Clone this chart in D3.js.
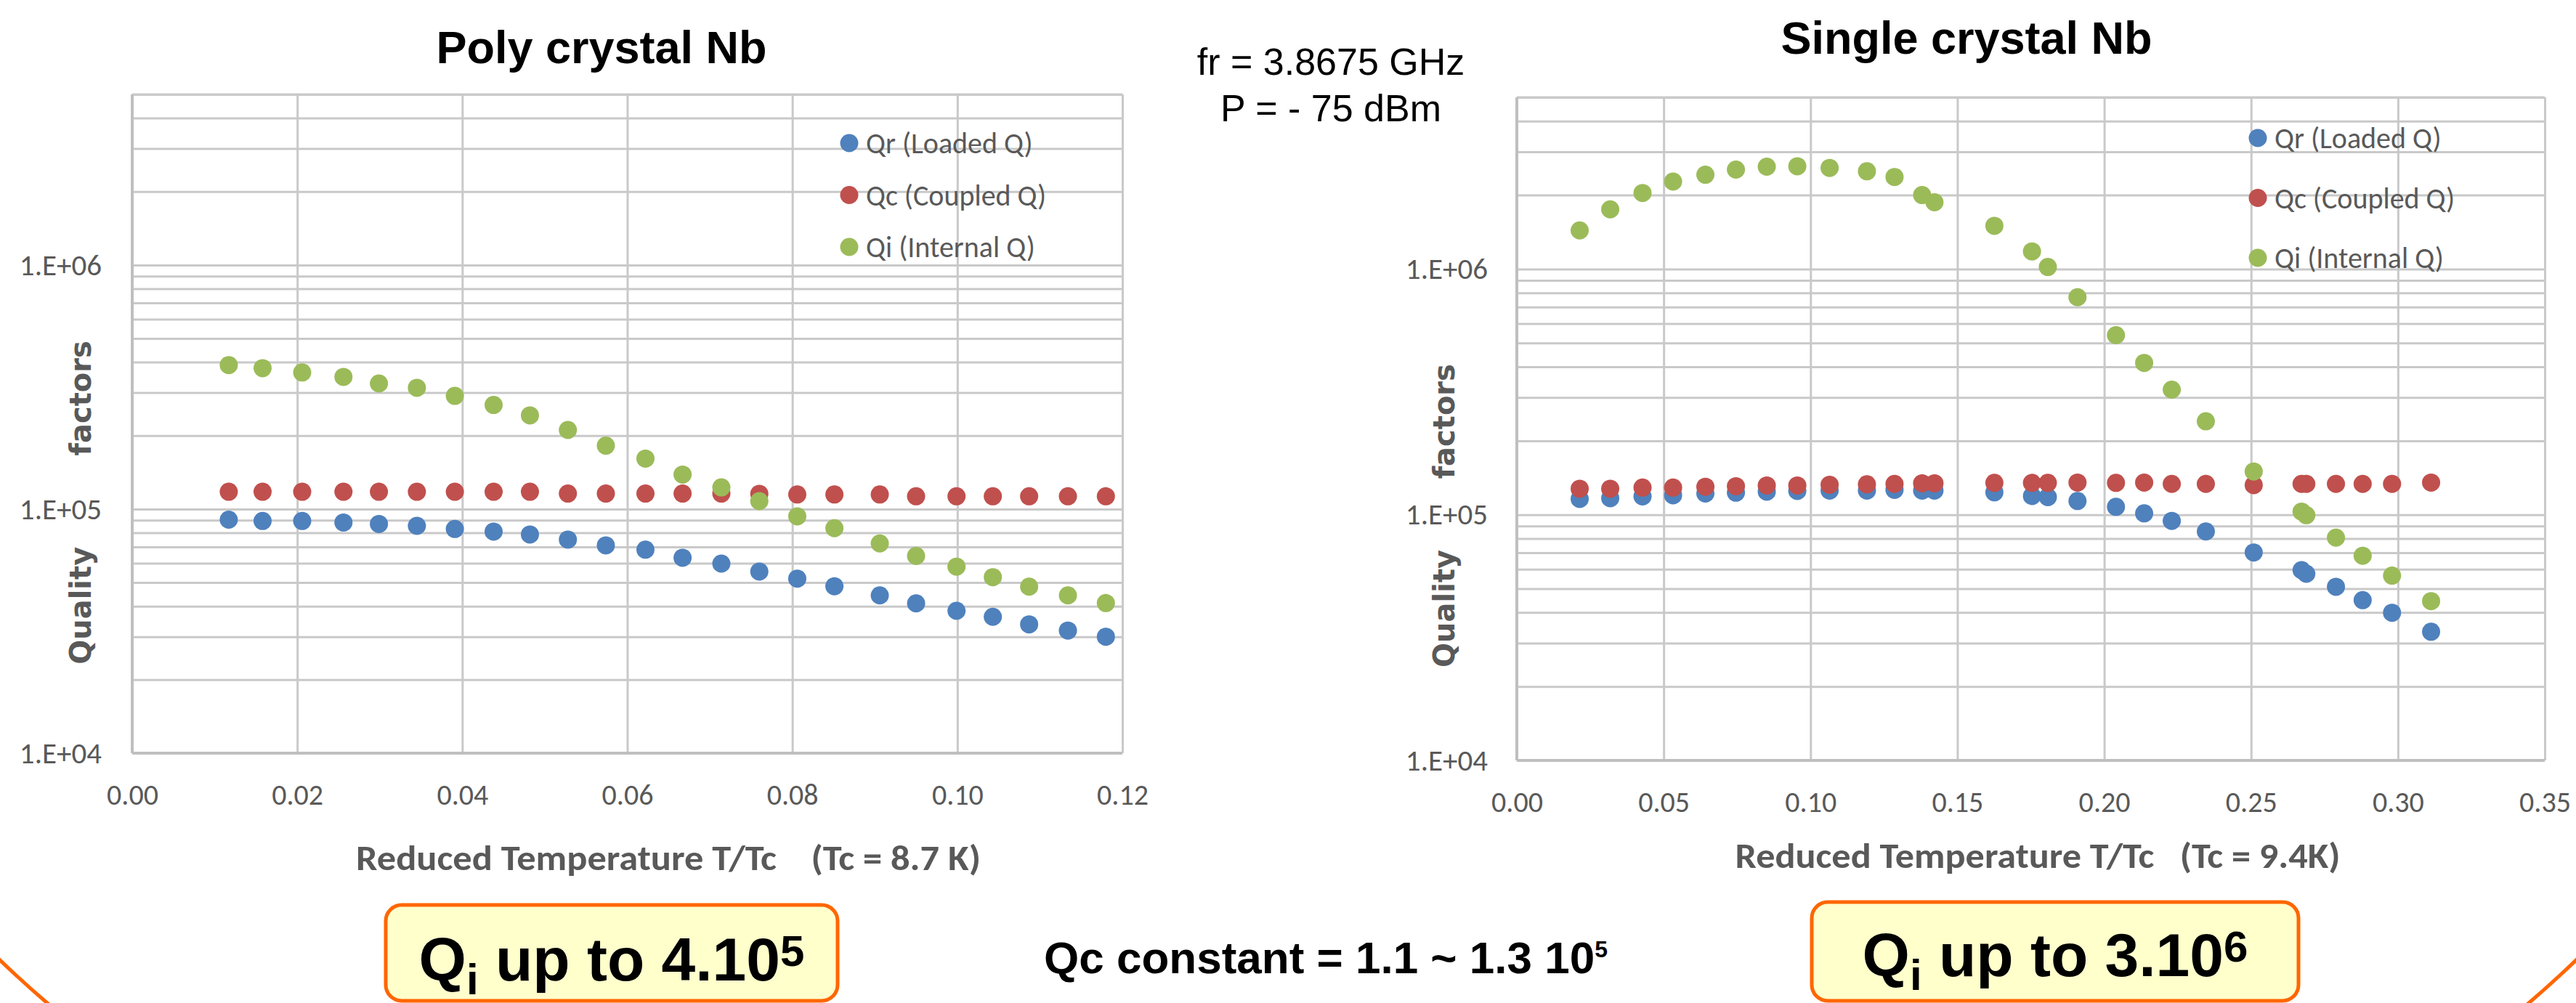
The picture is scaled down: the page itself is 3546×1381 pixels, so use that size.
<!DOCTYPE html>
<html>
<head>
<meta charset="utf-8">
<script src="https://cdn.jsdelivr.net/npm/d3@7"></script>
<style>
  body { margin: 0; background: #fff; }
  svg { display: block; }
  text { white-space: pre; }
</style>
</head>
<body>
<div class="canvas"></div>
<script>
// ---- data ----
const seriesNames = ["Qr (Loaded Q)", "Qc (Coupled Q)", "Qi (Internal Q)"];
const seriesColors = ["#4F81BD", "#C0504D", "#9BBB59"];

const yTickValues = [1e4, 1e5, 1e6];
const yTickLabels = ["1.E+04", "1.E+05", "1.E+06"];

const polyXTicks = [0, 0.02, 0.04, 0.06, 0.08, 0.10, 0.12];
const singleXTicks = [0, 0.05, 0.10, 0.15, 0.20, 0.25, 0.30, 0.35];

// poly crystal Nb
const polyT = [0.0117, 0.0158, 0.0206, 0.0256, 0.0299, 0.0345, 0.0391, 0.0438, 0.0482, 0.0528, 0.0574, 0.0622,
  0.0667, 0.0714, 0.0760, 0.0806, 0.0851, 0.0906, 0.0950, 0.0999, 0.1043, 0.1087, 0.1134, 0.1180];
const polyQr = [90500, 89400, 89400, 88100, 86900, 85400, 82900, 80900, 78700, 75000, 71000, 68200,
  63200, 59800, 55500, 51900, 48300, 44300, 41100, 38300, 36200, 33700, 31800, 30000];
const polyQc = [117800, 117800, 117800, 117800, 117800, 117800, 117800, 117800, 117800, 115800, 115800, 115800,
  115800, 115800, 115500, 114800, 114800, 114800, 112800, 112800, 112800, 112800, 112800, 112800];
const polyQi = [389000, 378000, 363000, 348000, 327000, 314000, 291000, 267000, 242000, 211000, 182000, 161000,
  138500, 122700, 107800, 93400, 83500, 72300, 64300, 58100, 52600, 48100, 44300, 41200];

// single crystal Nb
const singleT = [0.0214, 0.0318, 0.0428, 0.0532, 0.0642, 0.0746, 0.0851, 0.0955, 0.1065, 0.1192, 0.1286, 0.1380,
  0.1422, 0.1626, 0.1754, 0.1808, 0.1909, 0.2040, 0.2136, 0.2230, 0.2346, 0.2509, 0.2672, 0.2688,
  0.2789, 0.2880, 0.2980, 0.3113];
const singleQr = [116000, 116800, 118800, 120000, 122000, 123000, 124200, 125000, 125400, 125400, 126300, 125400,
  125400, 123400, 119200, 118000, 113700, 107700, 101300, 94400, 85500, 70200, 59500, 57500,
  50900, 44900, 39900, 33400];
const singleQc = [127600, 127600, 129000, 129000, 130000, 130700, 131600, 131600, 132500, 133000, 133500, 134300,
  134300, 134800, 134800, 134800, 135200, 134800, 135200, 133500, 133500, 132000, 133500, 133500,
  133500, 133500, 133500, 135200];
const singleQi = [1436000, 1750000, 2040000, 2270000, 2420000, 2540000, 2610000, 2620000, 2580000, 2500000, 2370000, 2000000,
  1870000, 1500000, 1180000, 1020000, 768000, 538000, 415000, 323000, 240000, 150000, 103000, 99600,
  80700, 68100, 56500, 44500];

const yDomain = [1e4, 5e6];

const W = 3546, H = 1381;
const labelFont = "Carlito, Lato, 'Open Sans', sans-serif";
const arial = "'Liberation Sans', Arial, sans-serif";
const grey = "#595959";

const svg = d3.select(".canvas")
  .append("svg")
  .attr("width", W)
  .attr("height", H);

svg.append("rect").attr("width", W).attr("height", H).attr("fill", "#fff");

// big orange frame, only the bottom corners show
svg.append("ellipse")
  .attr("cx", 1773).attr("cy", 650)
  .attr("rx", 2092).attr("ry", 1266)
  .attr("fill", "none")
  .attr("stroke", "#FF6600")
  .attr("stroke-width", 5);

function drawChart(c) {
  const g = svg.append("g");
  const x = d3.scaleLinear().domain([c.xTicks[0], c.xTicks[c.xTicks.length - 1]]).range([c.left, c.right]);
  const y = d3.scaleLog().domain(yDomain).range([c.bottom, c.top]);

  // horizontal gridlines (every minor log step)
  g.append("g")
    .attr("transform", `translate(${c.left},0)`)
    .call(d3.axisLeft(y).tickValues(y.ticks()).tickSize(-(c.right - c.left)).tickFormat(""))
    .call(a => a.select(".domain").remove())
    .selectAll("line")
    .attr("stroke", "#C9C9C9")
    .attr("stroke-width", 3);

  // vertical gridlines
  g.append("g")
    .attr("transform", `translate(0,${c.bottom})`)
    .call(d3.axisBottom(x).tickValues(c.xTicks).tickSize(-(c.bottom - c.top)).tickFormat(""))
    .call(a => a.select(".domain").remove())
    .selectAll("line")
    .attr("stroke", "#C9C9C9")
    .attr("stroke-width", 3);

  // top border
  g.append("line")
    .attr("x1", c.left).attr("x2", c.right)
    .attr("y1", y(yDomain[1])).attr("y2", y(yDomain[1]))
    .attr("stroke", "#C9C9C9").attr("stroke-width", 3);

  // axis lines
  g.append("line")
    .attr("x1", c.left).attr("x2", c.left)
    .attr("y1", c.top).attr("y2", c.bottom)
    .attr("stroke", "#BFBFBF").attr("stroke-width", 4);
  g.append("line")
    .attr("x1", c.left).attr("x2", c.right)
    .attr("y1", c.bottom).attr("y2", c.bottom)
    .attr("stroke", "#BFBFBF").attr("stroke-width", 4);

  // tick labels
  const yAx = g.append("g")
    .attr("transform", `translate(${c.left},0)`)
    .call(d3.axisLeft(y).tickValues(yTickValues).tickSize(0).tickPadding(c.yPad)
      .tickFormat((d, i) => yTickLabels[i]));
  yAx.select(".domain").remove();
  yAx.selectAll("text")
    .attr("fill", grey)
    .style("font-family", labelFont)
    .style("font-size", "41px");

  const xAx = g.append("g")
    .attr("transform", `translate(0,${c.bottom})`)
    .call(d3.axisBottom(x).tickValues(c.xTicks).tickSize(0).tickPadding(43)
      .tickFormat(d3.format(".2f")));
  xAx.select(".domain").remove();
  xAx.selectAll("text")
    .attr("fill", grey)
    .style("font-family", labelFont)
    .style("font-size", "40px");

  // series
  c.series.forEach((vals, k) => {
    g.append("g")
      .selectAll("circle")
      .data(vals.map((v, i) => ({ t: c.t[i], q: v })))
      .enter()
      .append("circle")
      .attr("cx", d => x(d.t))
      .attr("cy", d => y(d.q))
      .attr("r", 12.5)
      .attr("fill", seriesColors[k]);
  });

  // legend
  const lg = g.append("g")
    .selectAll("g")
    .data(seriesNames)
    .enter()
    .append("g")
    .attr("transform", (d, i) => `translate(${c.legX},${c.legY + i * c.legStep})`);
  lg.append("circle")
    .attr("r", 12.5)
    .attr("fill", (d, i) => seriesColors[i]);
  lg.append("text")
    .attr("x", 23)
    .attr("dy", "0.35em")
    .attr("fill", grey)
    .style("font-family", labelFont)
    .style("font-size", "40px")
    .text(d => d);

  // chart title
  g.append("text")
    .attr("x", c.titleX).attr("y", c.titleY)
    .attr("text-anchor", "middle")
    .style("font-family", arial)
    .style("font-weight", "bold")
    .style("font-size", "63px")
    .text(c.title);

  // axis titles
  g.append("text")
    .attr("x", c.xTitleX).attr("y", c.xTitleY)
    .attr("text-anchor", "middle")
    .attr("textLength", c.xTitleLen)
    .attr("lengthAdjust", "spacingAndGlyphs")
    .attr("fill", grey)
    .style("font-family", labelFont)
    .style("font-weight", "bold")
    .style("font-size", "49px")
    .text(c.xTitle);

  g.append("text")
    .attr("transform", `translate(${c.yTitleX},${c.yTitleY}) rotate(-90)`)
    .attr("text-anchor", "middle")
    .attr("dy", "0.35em")
    .attr("fill", grey)
    .style("font-family", "'DejaVu Sans', Verdana, sans-serif")
    .style("font-weight", "bold")
    .style("font-size", "40px")
    .text(c.yTitle);
}

drawChart({
  title: "Poly crystal Nb", titleX: 828, titleY: 87,
  left: 182, right: 1545, top: 130, bottom: 1037,
  xTicks: polyXTicks, yPad: 42,
  t: polyT, series: [polyQr, polyQc, polyQi],
  legX: 1169, legY: 197, legStep: 71.5,
  xTitle: "Reduced Temperature T/Tc    (Tc = 8.7 K)", xTitleX: 920, xTitleY: 1198, xTitleLen: 860,
  yTitle: "Quality         factors", yTitleX: 111, yTitleY: 692
});

drawChart({
  title: "Single crystal Nb", titleX: 2707, titleY: 74,
  left: 2088, right: 3503, top: 134, bottom: 1047,
  xTicks: singleXTicks, yPad: 40,
  t: singleT, series: [singleQr, singleQc, singleQi],
  legX: 3108, legY: 190, legStep: 82.5,
  xTitle: "Reduced Temperature T/Tc   (Tc = 9.4K)", xTitleX: 2805, xTitleY: 1195, xTitleLen: 833,
  yTitle: "Quality       factors", yTitleX: 1988, yTitleY: 710
});

// measurement conditions
const cond = svg.append("text")
  .attr("text-anchor", "middle")
  .style("font-family", arial)
  .style("font-size", "52px");
cond.append("tspan").attr("x", 1832).attr("y", 103).text("fr = 3.8675 GHz");
cond.append("tspan").attr("x", 1832).attr("y", 167).text("P = - 75 dBm");

// bottom notes
const qc = svg.append("text")
  .attr("x", 1825).attr("y", 1340)
  .attr("text-anchor", "middle")
  .style("font-family", arial)
  .style("font-weight", "bold")
  .style("font-size", "62px");
qc.append("tspan").text("Qc constant = 1.1 ~ 1.3 10");
qc.append("tspan").attr("dy", -22).style("font-size", "32px").text("5");

const boxes = [
  { x0: 531, x1: 1153, y0: 1246, base: 1350, exp: "5", mant: "4.10" },
  { x0: 2494, x1: 3164, y0: 1242, base: 1344, exp: "6", mant: "3.10" }
];

boxes.forEach(b => {
  svg.append("rect")
    .attr("x", b.x0).attr("y", b.y0)
    .attr("width", b.x1 - b.x0).attr("height", 1378 - b.y0)
    .attr("rx", 22)
    .attr("fill", "#FFFFCC")
    .attr("stroke", "#FF6600")
    .attr("stroke-width", 5);
  const t = svg.append("text")
    .attr("x", (b.x0 + b.x1) / 2).attr("y", b.base)
    .attr("text-anchor", "middle")
    .style("font-family", arial)
    .style("font-weight", "bold")
    .style("font-size", "84px");
  t.append("tspan").text("Q");
  t.append("tspan").attr("dy", 19).style("font-size", "60px").text("i");
  t.append("tspan").attr("dy", -19).text(" up to " + b.mant);
  t.append("tspan").attr("dy", -20).style("font-size", "60px").text(b.exp);
});
</script>
</body>
</html>
